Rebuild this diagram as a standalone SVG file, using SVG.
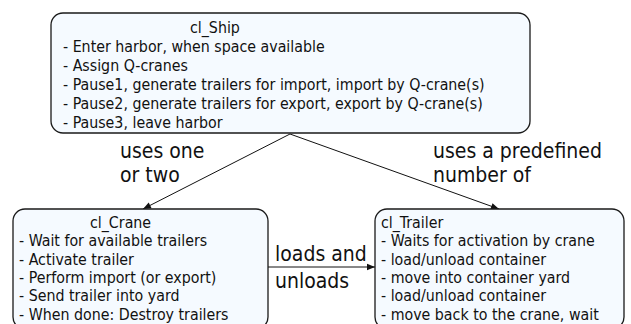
<svg xmlns="http://www.w3.org/2000/svg" width="631" height="324" viewBox="0 0 631 324">
  <style>
    .box { fill: #f5faff; stroke: #1a1a1a; stroke-width: 1.3; }
    .t { font-family: Tahoma, "DejaVu Sans Condensed", "Liberation Sans", sans-serif; font-size: 15.8px; fill: #111; }
    .lbl { font-family: Tahoma, "DejaVu Sans Condensed", "Liberation Sans", sans-serif; font-size: 21px; fill: #111; }
    .edge { stroke: #111; stroke-width: 1; fill: none; marker-end: url(#arrow); }
  </style>
  <defs>
    <marker id="arrow" viewBox="0 0 10 10" refX="10" refY="5" markerWidth="9" markerHeight="8" markerUnits="userSpaceOnUse" orient="auto">
      <path d="M0,1 L10,5 L0,9 z" fill="#111"/>
    </marker>
  </defs>
  <rect width="631" height="324" fill="#fff"/>

  <g id="connectors">
    <line class="edge" x1="290" y1="134" x2="143" y2="209"/>
    <line class="edge" x1="290" y1="134" x2="499" y2="209"/>
    <line class="edge" x1="268" y1="267" x2="375" y2="267"/>
    <text class="lbl" x="120" y="158">uses one</text>
    <text class="lbl" x="120" y="182">or two</text>
    <text class="lbl" x="433" y="158">uses a predefined</text>
    <text class="lbl" x="433" y="182">number of</text>
    <text class="lbl" x="275" y="261">loads and</text>
    <text class="lbl" x="275" y="288">unloads</text>
  </g>

  <g id="cl_Ship">
    <rect class="box" x="51" y="13" width="479" height="120" rx="12"/>
    <text class="t" x="190" y="33">cl_Ship</text>
    <text class="t" x="63" y="52">- Enter harbor, when space available</text>
    <text class="t" x="63" y="71">- Assign Q-cranes</text>
    <text class="t" x="63" y="90">- Pause1, generate trailers for import, import by Q-crane(s)</text>
    <text class="t" x="63" y="109">- Pause2, generate trailers for export, export by Q-crane(s)</text>
    <text class="t" x="63" y="127.5">- Pause3, leave harbor</text>
  </g>

  <g id="cl_Crane">
    <rect class="box" x="13" y="209" width="255" height="120" rx="12"/>
    <text class="t" x="90" y="227.5">cl_Crane</text>
    <text class="t" x="19" y="246">- Wait for available trailers</text>
    <text class="t" x="19" y="264.5">- Activate trailer</text>
    <text class="t" x="19" y="283">- Perform import (or export)</text>
    <text class="t" x="19" y="301">- Send trailer into yard</text>
    <text class="t" x="19" y="319.5">- When done: Destroy trailers</text>
  </g>

  <g id="cl_Trailer">
    <rect class="box" x="375" y="209" width="249" height="120" rx="12"/>
    <text class="t" x="381" y="227.5">cl_Trailer</text>
    <text class="t" x="381" y="246">- Waits for activation by crane</text>
    <text class="t" x="381" y="264.5">- load/unload container</text>
    <text class="t" x="381" y="283">- move into container yard</text>
    <text class="t" x="381" y="301">- load/unload container</text>
    <text class="t" x="381" y="319.5">- move back to the crane, wait</text>
  </g>
</svg>
